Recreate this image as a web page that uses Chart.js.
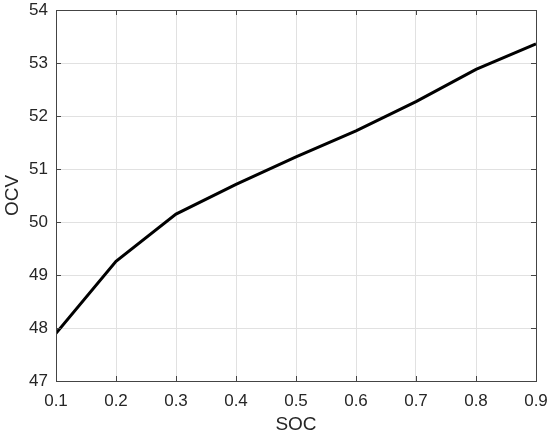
<!DOCTYPE html>
<html>
<head>
<meta charset="utf-8">
<script src="https://cdn.jsdelivr.net/npm/chart.js@4/dist/chart.umd.min.js"></script>
<style>
  html, body { margin: 0; padding: 0; background: #fff; }
  #wrap { width: 550px; height: 439px; }
</style>
</head>
<body>
<div id="wrap"><canvas id="myChart" width="550" height="439"></canvas></div>
<script>
// values
const soc = [0.1, 0.2, 0.3, 0.4, 0.5, 0.6, 0.7, 0.8, 0.9]
const ocv = [47.9, 49.26, 50.15, 50.71, 51.23, 51.72, 52.27, 52.88, 53.36]
const xTicks = [0.1, 0.2, 0.3, 0.4, 0.5, 0.6, 0.7, 0.8, 0.9]
const yTicks = [47, 48, 49, 50, 51, 52, 53, 54]

const axisColor = '#444444'
const textColor = '#262626'
const fontFamily = '"Liberation Sans", Arial, Helvetica, sans-serif'

// Matlab-like box with inward tick marks
const boxPlugin = {
    id: 'box',
    afterDraw(chart) {
        const { ctx, chartArea: a, scales } = chart
        const len = 5
        ctx.save()
        ctx.strokeStyle = axisColor
        ctx.lineWidth = 1
        ctx.beginPath()
        xTicks.forEach(v => {
            const px = Math.round(scales.x.getPixelForValue(v)) + 0.5
            ctx.moveTo(px, a.bottom); ctx.lineTo(px, a.bottom - len)
            ctx.moveTo(px, a.top); ctx.lineTo(px, a.top + len)
        })
        yTicks.forEach(v => {
            const py = Math.round(scales.y.getPixelForValue(v)) + 0.5
            ctx.moveTo(a.left, py); ctx.lineTo(a.left + len, py)
            ctx.moveTo(a.right, py); ctx.lineTo(a.right - len, py)
        })
        ctx.stroke()
        ctx.strokeRect(Math.round(a.left) + 0.5, Math.round(a.top) + 0.5,
            Math.round(a.right - a.left), Math.round(a.bottom - a.top))
        ctx.restore()
    }
}

const ctx = document.getElementById('myChart').getContext('2d')
const myChart = new Chart(ctx, {
    type: 'line',
    data: {
        datasets: [{
            data: soc.map((s, i) => ({ x: s, y: ocv[i] })),
            borderColor: '#000000',
            borderWidth: 3,
            pointRadius: 0,
            tension: 0,
            fill: false
        }]
    },
    options: {
        responsive: false,
        animation: false,
        layout: { padding: { top: 10, right: 14, left: 0, bottom: 0 } },
        plugins: { legend: { display: false }, tooltip: { enabled: false } },
        scales: {
            x: {
                type: 'linear',
                min: 0.1,
                max: 0.9,
                afterBuildTicks: scale => { scale.ticks = xTicks.map(v => ({ value: v })) },
                afterFit: scale => {
                    scale.height = 58
                    scale.paddingLeft = 0
                    scale.paddingRight = 0
                },
                grid: { color: '#e1e1e1', drawTicks: false },
                border: { display: false },
                ticks: {
                    padding: 10,
                    color: textColor,
                    font: { family: fontFamily, size: 17 },
                    maxRotation: 0,
                    autoSkip: false,
                    callback: v => v.toFixed(1)
                },
                title: {
                    display: true,
                    text: 'SOC',
                    color: textColor,
                    font: { family: fontFamily, size: 19 },
                    padding: { top: 0, bottom: 3 }
                }
            },
            y: {
                min: 47,
                max: 54,
                afterBuildTicks: scale => { scale.ticks = yTicks.map(v => ({ value: v })) },
                afterFit: scale => {
                    scale.width = 56
                    scale.paddingTop = 0
                    scale.paddingBottom = 0
                },
                grid: { color: '#e1e1e1', drawTicks: false },
                border: { display: false },
                ticks: {
                    padding: 8,
                    color: textColor,
                    font: { family: fontFamily, size: 17 }
                },
                title: {
                    display: true,
                    text: 'OCV',
                    color: textColor,
                    font: { family: fontFamily, size: 19 },
                    padding: { top: 1, bottom: 0 }
                }
            }
        }
    },
    plugins: [boxPlugin]
})
</script>
</body>
</html>
